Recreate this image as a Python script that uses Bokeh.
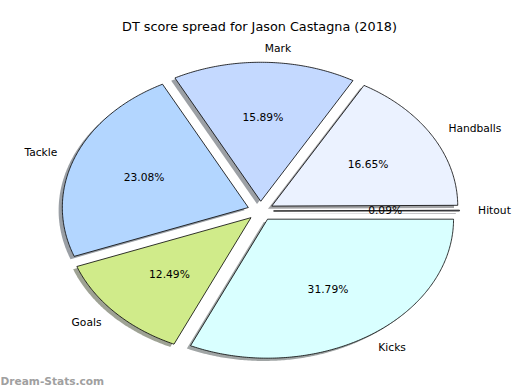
import numpy as np
from bokeh.plotting import figure
from bokeh.models import Range1d
from bokeh.embed import file_html
from bokeh.resources import INLINE
from bokeh.core.properties import value

# ---- data ----
labels = ["Hitout", "Handballs", "Mark", "Tackle", "Goals", "Kicks"]
percents = [0.09, 16.65, 15.89, 23.08, 12.49, 31.79]
pct_labels = ["0.09%", "16.65%", "15.89%", "23.08%", "12.49%", "31.79%"]
colors = ["#E3E3FF", "#EBF2FF", "#C4D9FF", "#B3D6FF", "#D0EB8A", "#D9FFFF"]
title_text = "DT score spread for Jason Castagna (2018)"
watermark = "Dream-Stats.com"

# ---- style ----
EXPLODE = 0.07
SHADOW_DX, SHADOW_DY = -0.02, -0.02
FONT = "DejaVu Sans"
SX, SY = 186.0, 139.0   # pixels per unit radius
CX, CY = 260.0, 210.5   # pie centre in pixels
W, H = 520, 390

p = figure(width=W, height=H, output_backend="svg", toolbar_location=None,
           x_range=Range1d((0 - CX) / SX, (W - CX) / SX),
           y_range=Range1d((CY - H) / SY, CY / SY),
           min_border=0, background_fill_color="white", border_fill_color="white")
p.axis.visible = False
p.grid.visible = False
p.outline_line_color = None

vals = np.array(percents, dtype=float)
fr = vals / vals.sum()
ends = np.cumsum(fr) * 2 * np.pi
starts = np.concatenate([[0.0], ends[:-1]])
mids = (starts + ends) / 2

xs, ys, sxs, sys_ = [], [], [], []
for a0, a1, m in zip(starts, ends, mids):
    ox, oy = EXPLODE * np.cos(m), EXPLODE * np.sin(m)
    t = np.linspace(a0, a1, max(3, int((a1 - a0) / 0.01)))
    px = np.concatenate([[ox], ox + np.cos(t), [ox]])
    py = np.concatenate([[oy], oy + np.sin(t), [oy]])
    xs.append(list(px)); ys.append(list(py))
    sxs.append(list(px + SHADOW_DX)); sys_.append(list(py + SHADOW_DY))

def shade(hexc):
    r, g, b = (int(hexc[i:i + 2], 16) for i in (1, 3, 5))
    return "#%02x%02x%02x" % (int(r * 0.3), int(g * 0.3), int(b * 0.3))

p.patches(sxs, sys_, fill_color=[shade(c) for c in colors], fill_alpha=0.5,
          line_color=None)
p.patches(xs, ys, fill_color=colors, line_color="black", line_width=0.8)

# labels
lx = EXPLODE * np.cos(mids) + 1.1 * np.cos(mids)
ly = EXPLODE * np.sin(mids) + 1.1 * np.sin(mids)
align = ["left" if c > 0 else "right" for c in np.cos(mids)]
p.text(x=lx, y=ly, text=labels, text_align=align, text_baseline="middle",
       text_font=value(FONT), text_font_size="10.7px", text_color="black")

px_ = EXPLODE * np.cos(mids) + 0.6 * np.cos(mids)
py_ = EXPLODE * np.sin(mids) + 0.6 * np.sin(mids)
p.text(x=px_, y=py_, text=pct_labels, text_align="center", text_baseline="middle",
       text_font=value(FONT), text_font_size="10.7px", text_color="black")

# title and watermark
p.text(x=[(259 - CX) / SX], y=[(CY - 26) / SY], text=[title_text],
       text_align="center", text_baseline="middle",
       text_font=value(FONT), text_font_size="12.8px", text_color="black")
p.text(x=[(0 - CX) / SX], y=[(CY - 380) / SY], text=[watermark],
       text_align="left", text_baseline="middle",
       text_font=value(FONT), text_font_size="10.6px", text_color="#a0a0a0",
       text_font_style="bold")

open("out.html", "w").write(file_html(p, INLINE))
